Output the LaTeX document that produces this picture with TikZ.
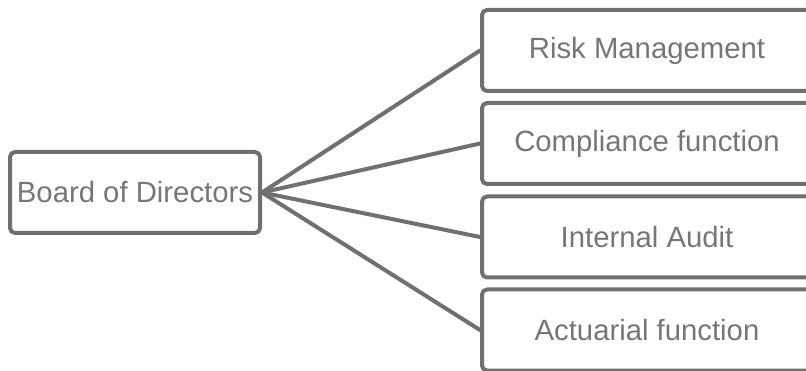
\documentclass[tikz,border=0pt]{standalone}
\usepackage{fontspec}
\setmainfont{Liberation Sans}
\definecolor{boxgray}{HTML}{707070}
\definecolor{textgray}{HTML}{767676}
\begin{document}
\begin{tikzpicture}[x=1pt,y=-1pt,line join=round,line cap=round]
            \tikzset{box style/.style={draw=boxgray,line width=4pt,rounded corners=5pt,text=textgray,
                font=\fontsize{29.3}{35}\selectfont,minimum height=81pt,inner sep=0pt}}
            \tikzset{link style/.style={draw=boxgray,line width=4pt}}
            %% page frame
            \useasboundingbox (0,0) rectangle (806,371);
            \clip (0,0) rectangle (806,371);
            \node[box style,minimum width=250pt] (board) at (135,192.5) {Board of Directors};
            \node[box style,minimum width=330pt] (risk) at (647,50.5) {Risk Management};
            \node[box style,minimum width=330pt] (compl) at (647,143.5) {Compliance function};
            \node[box style,minimum width=330pt] (audit) at (647,237) {Internal Audit};
            \node[box style,minimum width=330pt] (actu) at (647,330) {Actuarial function};
            \foreach \n in {risk,compl,audit,actu} \draw[link style] (board.east)--(\n.west);
        \end{tikzpicture}
\end{document}
